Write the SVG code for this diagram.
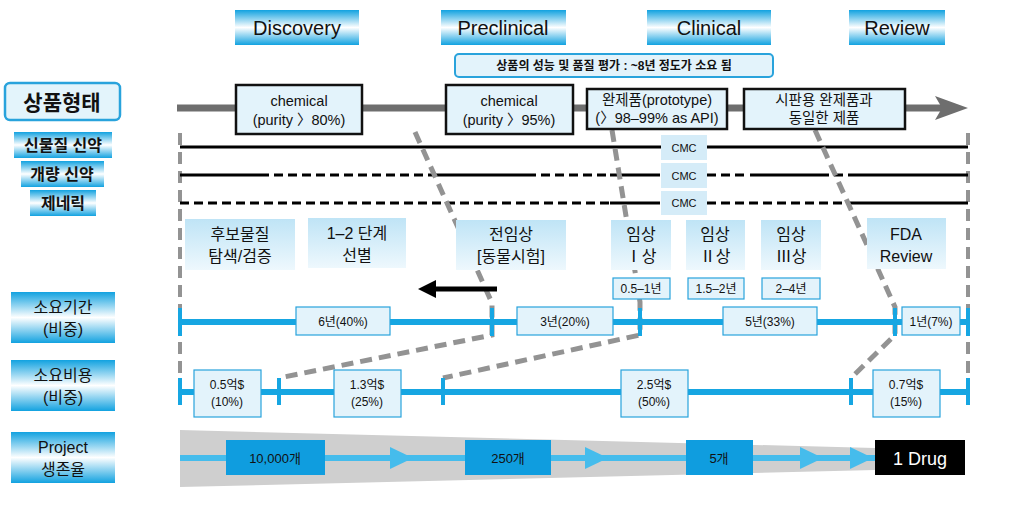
<svg xmlns="http://www.w3.org/2000/svg" width="1016" height="518" viewBox="0 0 1016 518">
<defs>
<linearGradient id="gH" x1="0" y1="0" x2="0" y2="1"><stop offset="0" stop-color="#12a2e0"/><stop offset="0.5" stop-color="#ffffff"/><stop offset="1" stop-color="#12a2e0"/></linearGradient>
<linearGradient id="gP" x1="0" y1="0" x2="0" y2="1"><stop offset="0" stop-color="#bfe4f6"/><stop offset="1" stop-color="#eef8fd"/></linearGradient>
</defs>
<style>
text{font-family:"Liberation Sans","Noto Sans CJK KR",sans-serif;text-anchor:middle;fill:#111}
.hd{fill:url(#gH)}
.ph{fill:url(#gP)}
.bx{fill:#e3f3fb;stroke:#111;stroke-width:2.5}
.sb{fill:#e3f3fb;stroke:#29a3dc;stroke-width:1.2}
.cmc{fill:#d5ecf8}
.gd{fill:none;stroke:#939393;stroke-width:5;stroke-dasharray:12,7}
.bl{stroke:#16a6e2;stroke-width:6}
.tk{stroke:#16a6e2;stroke-width:4}
.k{stroke:#000;stroke-width:3;fill:none}
.kd{stroke:#000;stroke-width:3;fill:none;stroke-dasharray:9,5}
.s14{font-size:14.5px}
.s12{font-size:12px}
.s16{font-size:16px}
</style>
<g id="headers">
<rect class="hd" x="235" y="10" width="124" height="35"/><text x="297" y="35" font-size="20">Discovery</text>
<rect class="hd" x="441" y="10" width="125" height="35"/><text x="503" y="35" font-size="20">Preclinical</text>
<rect class="hd" x="647" y="10" width="124" height="35"/><text x="709" y="35" font-size="20">Clinical</text>
<rect class="hd" x="849" y="10" width="96" height="35"/><text x="897" y="35" font-size="20">Review</text>
</g>
<g id="banner"><rect x="455" y="54" width="318" height="23" rx="4" fill="#e3f3fb" stroke="#29a3dc" stroke-width="2"/><text x="614" y="70" font-size="12" font-weight="bold">상품의 성능 및 품질 평가 : ~8년 정도가 소요 됨</text></g>
<g id="left-labels">
<rect x="5" y="83" width="115" height="37" rx="5" fill="#e3f4fb" stroke="#29a3dc" stroke-width="2.5"/><text x="62" y="110" font-size="21" font-weight="bold">상품형태</text>
<rect class="hd" x="14" y="132" width="98" height="26"/><text x="63" y="151" class="s16" font-weight="bold">신물질 신약</text>
<rect class="hd" x="21" y="161" width="83" height="26"/><text x="62" y="180" class="s16" font-weight="bold">개량 신약</text>
<rect class="hd" x="30" y="190" width="66" height="26"/><text x="63" y="209" class="s16" font-weight="bold">제네릭</text>
<rect class="hd" x="11" y="292" width="104" height="51"/><text x="63" y="313" class="s16">소요기간</text><text x="63" y="335" class="s16">(비중)</text>
<rect class="hd" x="11" y="360" width="104" height="51"/><text x="63" y="381" class="s16">소요비용</text><text x="63" y="403" class="s16">(비중)</text>
<rect class="hd" x="11" y="432" width="104" height="51"/><text x="63" y="453" class="s16">Project</text><text x="63" y="475" class="s16">생존율</text>
</g>
<g id="connectors">
<line x1="177" y1="108" x2="945" y2="108" stroke="#6e6e6e" stroke-width="7"/>
<polygon points="935,96 968,108 935,120 942,108" fill="#6e6e6e"/>
<line x1="180" y1="133" x2="180" y2="390" stroke="#939393" stroke-width="4" stroke-dasharray="12,7"/>
<line x1="968" y1="133" x2="968" y2="400" stroke="#939393" stroke-width="4" stroke-dasharray="12,7"/>
<line class="k" x1="180" y1="147" x2="968" y2="147"/>
<path class="k" d="M180 175H260M435 175H527M610 175H660M750 175H820M857 175H968"/>
<path class="kd" d="M260 175H435M527 175H610M707 175H747M820 175H857"/>
<path class="kd" d="M180 203H610M707 203H848"/>
<path class="k" d="M610 203H660M848 203H968"/>
<polyline class="gd" points="415,132 492,303 492,335 279,378"/>
<polyline class="gd" points="612,130 640,302 640,335 443,378"/>
<polyline class="gd" points="815,130 895,307 895,335 851,378"/>
<line x1="497" y1="289" x2="432" y2="289" stroke="#000" stroke-width="5"/><polygon points="418,289 436,280 436,298" fill="#000"/>
<line class="bl" x1="180" y1="322" x2="968" y2="322"/>
<path class="tk" d="M180 308V336M492 308V336M640 308V336M895 308V336M968 308V336"/>
<line class="bl" x1="180" y1="392" x2="968" y2="392"/>
<path class="tk" d="M180 378V405M279 378V405M443 378V405M851 378V405M968 378V405"/>
<polygon points="180,430 875,448 875,470 180,487" fill="#cfcfcf"/>
<line x1="180" y1="458" x2="875" y2="458" stroke="#45bcec" stroke-width="6"/>
<g fill="#45bcec"><polygon points="390,447 413,458 390,469"/><polygon points="585,447 608,458 585,469"/><polygon points="800,447 823,458 800,469"/><polygon points="850,447 873,458 850,469"/></g>
</g>
<g id="forms">
<rect class="bx" x="236" y="85" width="126" height="49"/><text x="299" y="106" class="s14">chemical</text><text x="299" y="125" class="s14">(purity 〉80%)</text>
<rect class="bx" x="446" y="85" width="127" height="49"/><text x="509" y="106" class="s14">chemical</text><text x="509" y="125" class="s14">(purity 〉95%)</text>
<rect class="bx" x="587" y="89" width="140" height="40"/><text x="657" y="105" class="s14">완제품(prototype)</text><text x="657" y="123" class="s14">(〉98–99% as API)</text>
<rect class="bx" x="744" y="89" width="161" height="40"/><text x="824" y="105" class="s14">시판용 완제품과</text><text x="824" y="123" class="s14">동일한 제품</text>
</g>
<g id="cmc">
<rect class="cmc" x="661" y="135" width="46" height="25"/><text x="684" y="152" font-size="11">CMC</text>
<rect class="cmc" x="661" y="163" width="46" height="25"/><text x="684" y="180" font-size="11">CMC</text>
<rect class="cmc" x="661" y="191" width="46" height="24"/><text x="684" y="207" font-size="11">CMC</text>
</g>
<g id="phases">
<rect class="ph" x="185" y="219" width="110" height="51"/><text x="240" y="240" class="s16">후보물질</text><text x="240" y="262" class="s16">탐색/검증</text>
<rect class="ph" x="308" y="218" width="98" height="50"/><text x="357" y="239" class="s16">1–2 단계</text><text x="357" y="261" class="s16">선별</text>
<rect class="ph" x="456" y="220" width="110" height="50"/><text x="511" y="240" class="s16">전임상</text><text x="511" y="262" class="s16">[동물시험]</text>
<rect class="ph" x="611" y="220" width="60" height="50"/><text x="641" y="240" class="s16">임상</text><text x="641" y="262" class="s16">Ⅰ상</text>
<rect class="ph" x="686" y="220" width="59" height="50"/><text x="715" y="240" class="s16">임상</text><text x="715" y="262" class="s16">Ⅱ상</text>
<rect class="ph" x="761" y="220" width="60" height="50"/><text x="791" y="240" class="s16">임상</text><text x="791" y="262" class="s16">Ⅲ상</text>
<rect class="ph" x="867" y="218" width="79" height="51"/><text x="906" y="240" class="s16">FDA</text><text x="906" y="262" class="s16">Review</text>
<rect class="sb" x="613" y="278" width="57" height="21"/><text x="641" y="293" class="s12">0.5–1년</text>
<rect class="sb" x="688" y="278" width="56" height="21"/><text x="716" y="293" class="s12">1.5–2년</text>
<rect class="sb" x="762" y="278" width="58" height="21"/><text x="791" y="293" class="s12">2–4년</text>
</g>
<g id="durations">
<rect class="sb" x="296" y="307" width="94" height="28"/><text x="343" y="326" class="s12">6년(40%)</text>
<rect class="sb" x="517" y="307" width="96" height="28"/><text x="565" y="326" class="s12">3년(20%)</text>
<rect class="sb" x="723" y="307" width="94" height="28"/><text x="770" y="326" class="s12">5년(33%)</text>
<rect class="sb" x="902" y="307" width="58" height="28"/><text x="931" y="326" class="s12">1년(7%)</text>
</g>
<g id="costs">
<rect class="sb" x="194" y="370" width="67" height="47"/><text x="227" y="389" class="s12">0.5억$</text><text x="227" y="406" class="s12">(10%)</text>
<rect class="sb" x="334" y="370" width="67" height="47"/><text x="367" y="389" class="s12">1.3억$</text><text x="367" y="406" class="s12">(25%)</text>
<rect class="sb" x="621" y="370" width="67" height="47"/><text x="654" y="389" class="s12">2.5억$</text><text x="654" y="406" class="s12">(50%)</text>
<rect class="sb" x="873" y="370" width="67" height="47"/><text x="906" y="389" class="s12">0.7억$</text><text x="906" y="406" class="s12">(15%)</text>
</g>
<g id="survival">
<rect x="226" y="440" width="99" height="35" fill="#0f9ddf"/><text x="275" y="463" font-size="13">10,000개</text>
<rect x="465" y="440" width="86" height="35" fill="#0f9ddf"/><text x="508" y="463" font-size="13">250개</text>
<rect x="686" y="440" width="67" height="35" fill="#0f9ddf"/><text x="719" y="463" font-size="13">5개</text>
<rect x="875" y="440" width="90" height="35" fill="#000"/><text x="920" y="465" font-size="18" style="fill:#fff">1 Drug</text>
</g>
</svg>
